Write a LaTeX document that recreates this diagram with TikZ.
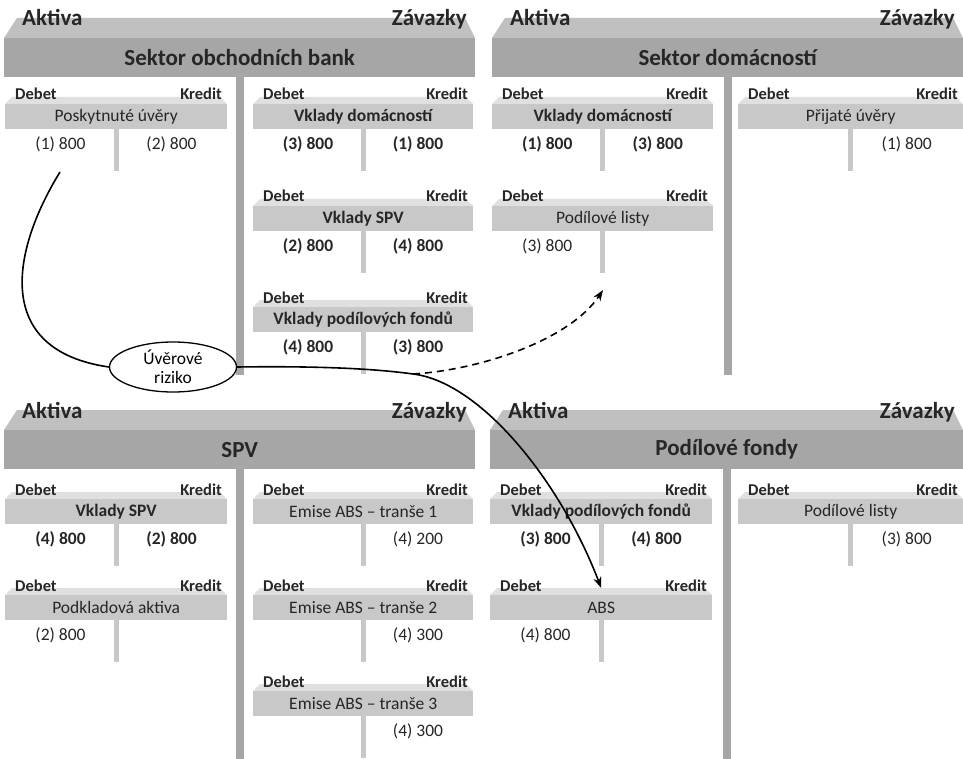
\documentclass[tikz,border=0pt]{standalone}
\usepackage{fontspec}
\setmainfont{Carlito}
\usetikzlibrary{shapes.geometric,arrows.meta}

\definecolor{sektorbar}{RGB}{166,166,166}
\definecolor{sektorvrch}{RGB}{192,192,192}
\definecolor{uctobar}{RGB}{200,200,200}
\definecolor{uctovrch}{RGB}{224,224,224}
\definecolor{textc}{RGB}{38,38,38}

\tikzset{
  sektorhlava/.style={fill=sektorbar, inner sep=0pt, anchor=north west,
    minimum height=39pt, text=textc, font=\fontsize{23}{25}\selectfont\bfseries},
  strana/.style={inner sep=0pt, text=textc, font=\fontsize{23}{25}\selectfont\bfseries},
  uctohlava/.style={fill=uctobar, inner sep=0pt, anchor=north west,
    minimum height=25pt, text=textc, font=\fontsize{17.5}{19}\selectfont},
  debkred/.style={inner sep=0pt, text=textc, font=\fontsize{16.5}{18}\selectfont\bfseries},
  hodnota/.style={inner sep=0pt, text=textc, font=\fontsize{17.5}{19}\selectfont},
  riziko/.style={ellipse, draw, line width=1.3pt, fill=white, inner sep=0pt,
    minimum width=127pt, minimum height=50pt, align=center,
    font=\fontsize{17.5}{19}\selectfont},
  spoj/.style={line width=1.6pt, black}
}

\begin{document}
\begin{tikzpicture}[x=1pt, y=-1pt]

\clip (0,0) rectangle (963,759);

% Sector: name, left, right, bar top, title, bottom of middle bar
\def\sektor#1#2#3#4#5#6{%
  \fill[sektorvrch] ({#2+13},{#4-20}) -- ({#3-10},{#4-20}) -- (#3,#4) -- (#2,#4) -- cycle;
  \fill[sektorbar] ({(#2+#3)/2-4},{#4+38}) rectangle ({(#2+#3)/2+4},#6);
  \node[sektorhlava, minimum width={(#3-#2)*1pt}] (#1) at (#2,#4) {#5};
  \node[strana, anchor=base west] (#1-akt) at ({#2+18},{#4-12}) {Aktiva};
  \node[strana, anchor=base east] (#1-zav) at ({#3-8},{#4-12}) {Závazky};
}

% T-account: name, left, right, bar top, title, debit value, credit value
\def\ucet#1#2#3#4#5#6#7{%
  \fill[uctovrch] ({#2+7},{#4-7}) -- ({#3-7},{#4-7}) -- (#3,#4) -- (#2,#4) -- cycle;
  \node[uctohlava, minimum width={(#3-#2)*1pt}] (#1) at (#2,#4) {#5};
  \node[debkred, anchor=base west] (#1-deb) at ({#2+10},{#4-4}) {Debet};
  \node[debkred, anchor=base east] (#1-kred) at ({#3-5},{#4-4}) {Kredit};
  \fill[uctobar] ({(#2+#3)/2-2.5},{#4+25}) rectangle ({(#2+#3)/2+2.5},{#4+67});
  \node[hodnota] (#1-md) at ({#2+(#3-#2)/4},{#4+40}) {#6};
  \node[hodnota] (#1-dal) at ({#3-(#3-#2)/4},{#4+40}) {#7};
}

% Sektor obchodnich bank
\sektor{banky}{4}{475}{38}{Sektor obchodních bank}{375}
\ucet{uvery}{5}{227}{104}{Poskytnuté úvěry}{(1) 800}{(2) 800}
\ucet{vkdom}{253}{473}{104}{\bfseries Vklady domácností}{\bfseries (3) 800}{\bfseries (1) 800}
\ucet{vkspv}{253}{473}{206}{\bfseries Vklady SPV}{\bfseries (2) 800}{\bfseries (4) 800}
\ucet{vkfond}{253}{473}{307}{\bfseries Vklady podílových fondů}{\bfseries (4) 800}{\bfseries (3) 800}

% Sektor domacnosti
\sektor{domacnosti}{492}{963}{38}{Sektor domácností}{375}
\ucet{domvk}{492}{713}{104}{\bfseries Vklady domácností}{\bfseries (1) 800}{\bfseries (3) 800}
\ucet{domuv}{738}{963}{104}{Přijaté úvěry}{}{(1) 800}
\ucet{domlist}{492}{713}{206}{Podílové listy}{(3) 800}{}

% SPV
\sektor{spv}{4}{475}{430}{SPV}{759}
\ucet{spvvk}{5}{227}{499}{\bfseries Vklady SPV}{\bfseries (4) 800}{\bfseries (2) 800}
\ucet{podklad}{5}{227}{595}{Podkladová aktiva}{(2) 800}{}
\ucet{transe1}{253}{473}{499}{Emise ABS – tranše 1}{}{(4) 200}
\ucet{transe2}{253}{473}{595}{Emise ABS – tranše 2}{}{(4) 300}
\ucet{transe3}{253}{473}{691}{Emise ABS – tranše 3}{}{(4) 300}

% Podilove fondy
\sektor{fondy}{490}{963}{430}{Podílové fondy}{759}
\ucet{fondvk}{490}{712}{499}{\bfseries Vklady podílových fondů}{\bfseries (3) 800}{\bfseries (4) 800}
\ucet{abs}{490}{712}{595}{ABS}{(4) 800}{}
\ucet{fondlist}{738}{963}{499}{Podílové listy}{}{(3) 800}

% Uverove riziko
\node[riziko] (rizik) at (173,367) {Úvěrové\\riziko};
\coordinate (uverstart) at (60,172);
\coordinate (odbocka) at (413,374);
\coordinate (listcil) at (603,290);

\draw[spoj] (uverstart) .. controls (12,250) and (-8,350) .. (rizik.west);
\draw[spoj, -{Stealth[length=11pt, width=8pt]}] (rizik.east)
  .. controls (310,366) and (370,368) .. (odbocka)
  .. controls (480,382) and (560,480) .. ([yshift=7pt]abs.north);
\draw[spoj, dashed, dash pattern=on 7pt off 5pt, -{Stealth[length=11pt, width=8pt]}]
  (odbocka) .. controls (480,370) and (570,340) .. (listcil);

\end{tikzpicture}
\end{document}
